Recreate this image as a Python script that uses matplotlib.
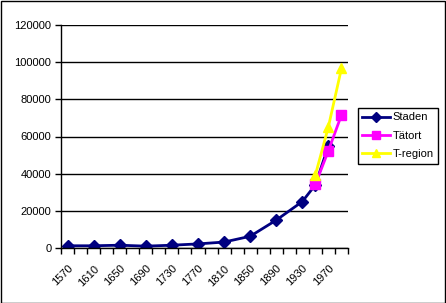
import matplotlib
matplotlib.use("Agg")
import matplotlib.pyplot as plt
from matplotlib.patches import Rectangle

plt.rcParams['font.family'] = ['Liberation Sans', 'DejaVu Sans']

# kategorier, 20 år mellan varje
years = list(range(1570, 1991, 20))
staden = [1200, None, 1200, None, 1500, None, 1000, None, 1500, None, 2200, None,
          3200, None, 6300, None, 15000, None, 25000, 34000, 55000, None]
tatort = [None] * 19 + [34300, 52400, 71600]
tregion = [None] * 19 + [39300, 65300, 96700]

y_ticks = [0, 20000, 40000, 60000, 80000, 100000, 120000]


def points(values):
    xs = [i for i, v in enumerate(values) if v is not None]
    ys = [v for v in values if v is not None]
    return xs, ys


fig = plt.figure(figsize=(4.46, 3.03), dpi=100)
ax = fig.add_axes([61 / 446, 55 / 303, 287 / 446, 223 / 303])

x, y = points(staden)
ax.plot(x, y, color='#000080', lw=2, marker='D', ms=6.5, label='Staden')
x, y = points(tatort)
ax.plot(x, y, color='#FF00FF', lw=2, marker='s', ms=7, label='Tätort')
x, y = points(tregion)
ax.plot(x, y, color='#FFFF00', lw=2, marker='^', ms=7.5, label='T-region')

ax.set_xlim(-0.5, len(years) - 0.5)
ax.set_ylim(0, 120000)
ax.set_yticks(y_ticks)
ax.set_yticklabels([str(t) for t in y_ticks], fontsize=8)
ax.yaxis.grid(True, color='black', lw=1)
ax.set_axisbelow(True)

ax.set_xticks(range(0, len(years), 2))
ax.set_xticklabels([str(years[i]) for i in range(0, len(years), 2)],
                   rotation=45, ha='right', rotation_mode='anchor', fontsize=8)
ax.set_xticks([i - 0.5 for i in range(len(years) + 1)], minor=True)
ax.tick_params(axis='x', which='major', length=0, pad=11)
ax.tick_params(axis='x', which='minor', length=4, width=1, color='black')
ax.tick_params(axis='y', length=4, width=1, color='black', pad=3)

ax.spines['top'].set_visible(False)
ax.spines['right'].set_visible(False)
ax.spines['left'].set_linewidth(1)
ax.spines['bottom'].set_linewidth(1)

leg = ax.legend(loc='upper left', bbox_to_anchor=(358 / 446, 1 - 108 / 303),
                bbox_transform=fig.transFigure, fontsize=8, frameon=True,
                fancybox=False, edgecolor='black', framealpha=1,
                handlelength=2.5, handletextpad=0.2, borderpad=0.4,
                borderaxespad=0, labelspacing=0.75, markerscale=0.75)
leg.get_frame().set_linewidth(1)

fig.patches.append(Rectangle((0.5 / 446, 0.5 / 303), 444.5 / 446, 301.5 / 303,
                             transform=fig.transFigure, fill=False,
                             edgecolor='black', lw=1))

fig.savefig('out.png', dpi=100)
